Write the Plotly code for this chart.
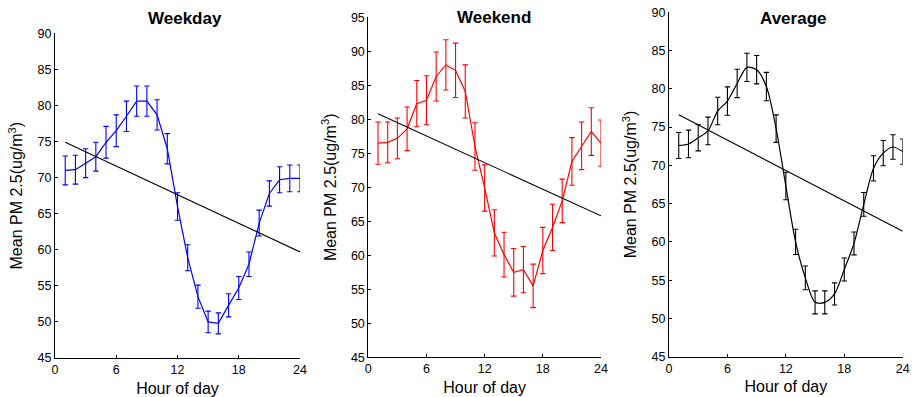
import plotly.graph_objects as go

# Hourly mean PM2.5 with error bars, plus a linear trend for each day type
hours = list(range(1, 25))

weekday_mean = [71.0, 71.1, 72.0, 72.9, 74.9, 76.5, 78.5, 80.6, 80.6, 78.7, 74.0, 66.0,
                58.9, 53.5, 50.0, 49.8, 52.3, 54.7, 58.0, 63.7, 67.8, 69.7, 69.9, 69.9]
weekday_err = [2.0, 2.0, 2.0, 2.0, 2.2, 2.2, 2.1, 2.1, 2.1, 2.1, 2.1, 1.9,
               1.8, 1.6, 1.5, 1.45, 1.6, 1.6, 1.7, 1.8, 1.75, 1.8, 1.85, 1.85]

weekend_mean = [76.5, 76.6, 77.2, 78.6, 82.3, 82.8, 86.3, 88.0, 87.2, 84.1, 76.0, 69.9,
                63.3, 60.1, 57.5, 57.9, 55.5, 60.7, 64.1, 68.0, 73.8, 76.1, 78.2, 76.5]
weekend_err = [3.1, 3.0, 3.0, 3.2, 3.4, 3.6, 3.6, 3.7, 4.0, 3.9, 3.5, 3.4,
               3.4, 3.3, 3.5, 3.4, 3.2, 3.4, 3.4, 3.2, 3.5, 3.5, 3.5, 3.4]

average_mean = [72.6, 72.8, 73.6, 74.5, 77.1, 78.4, 80.7, 82.8, 82.5, 80.3, 74.8, 67.3,
                60.0, 55.3, 52.1, 52.1, 53.2, 56.4, 59.8, 64.9, 69.6, 71.6, 72.4, 71.8]
average_err = [1.7, 1.8, 1.7, 1.8, 1.8, 1.85, 1.85, 1.85, 1.85, 1.85, 1.8, 1.8,
               1.65, 1.55, 1.5, 1.5, 1.45, 1.5, 1.5, 1.55, 1.65, 1.65, 1.6, 1.65]

trend_hours = [1, 24]
weekday_trend = [74.9, 59.7]
weekend_trend = [80.8, 65.8]
average_trend = [76.6, 61.4]

panel_titles = ["Weekday", "Weekend", "Average"]
x_ticks = [0, 6, 12, 18, 24]

W, H = 912, 397
FONT = "Liberation Sans, Arial, Helvetica, sans-serif"

panels = [
    dict(mean=weekday_mean, err=weekday_err, trend=weekday_trend, color="#0000ff",
         shape="linear", px=(55, 300), py=(33.3, 358), yr=(45, 90),
         title_xy=(184.5, 18.5)),
    dict(mean=weekend_mean, err=weekend_err, trend=weekend_trend, color="#ff0000",
         shape="linear", px=(368.3, 601), py=(17.3, 357.3), yr=(45, 95),
         title_xy=(494, 18)),
    dict(mean=average_mean, err=average_err, trend=average_trend, color="#000000",
         shape="spline", px=(669, 902.7), py=(12.3, 356.7), yr=(45, 90),
         title_xy=(792.7, 19)),
]

fig = go.Figure()
layout = dict(
    width=W, height=H,
    margin=dict(l=0, r=0, t=0, b=0),
    paper_bgcolor="white", plot_bgcolor="white",
    showlegend=False,
    font=dict(family=FONT, size=12, color="black"),
    annotations=[],
)

for i, p in enumerate(panels):
    n = "" if i == 0 else str(i + 1)
    xa, ya = "x" + n, "y" + n
    fig.add_trace(go.Scatter(
        x=hours, y=p["mean"], mode="lines", xaxis=xa, yaxis=ya,
        line=dict(color=p["color"], width=1.2, shape=p["shape"], smoothing=0.8),
        error_y=dict(type="data", array=p["err"], visible=True,
                     color=p["color"], thickness=1.1, width=2.7),
    ))
    fig.add_trace(go.Scatter(
        x=trend_hours, y=p["trend"], mode="lines", xaxis=xa, yaxis=ya,
        line=dict(color="black", width=1.1),
    ))
    layout["xaxis" + n] = dict(
        domain=[p["px"][0] / W, p["px"][1] / W], anchor=ya,
        range=[0, 24], tickvals=x_ticks, ticks="inside", ticklen=3,
        tickcolor="black", showline=True, linecolor="black", linewidth=1,
        showgrid=False, zeroline=False, tickfont=dict(size=12.5),
        title=dict(text="Hour of day", font=dict(size=16), standoff=6),
        automargin=False,
    )
    layout["yaxis" + n] = dict(
        domain=[1 - p["py"][1] / H, 1 - p["py"][0] / H], anchor=xa,
        range=list(p["yr"]), dtick=5, ticks="inside", ticklen=3,
        tickcolor="black", showline=True, linecolor="black", linewidth=1,
        showgrid=False, zeroline=False, tickfont=dict(size=12.5),
        title=dict(text="Mean PM 2.5(ug/m<sup>3</sup>)", font=dict(size=16), standoff=10),
        automargin=False,
    )
    layout["annotations"].append(dict(
        text="<b>" + panel_titles[i] + "</b>", xref="paper", yref="paper",
        x=p["title_xy"][0] / W, y=1 - p["title_xy"][1] / H,
        xanchor="center", yanchor="middle", showarrow=False,
        font=dict(size=17, family=FONT, color="black"),
    ))

fig.update_layout(**layout)
fig.write_html("out.html")
